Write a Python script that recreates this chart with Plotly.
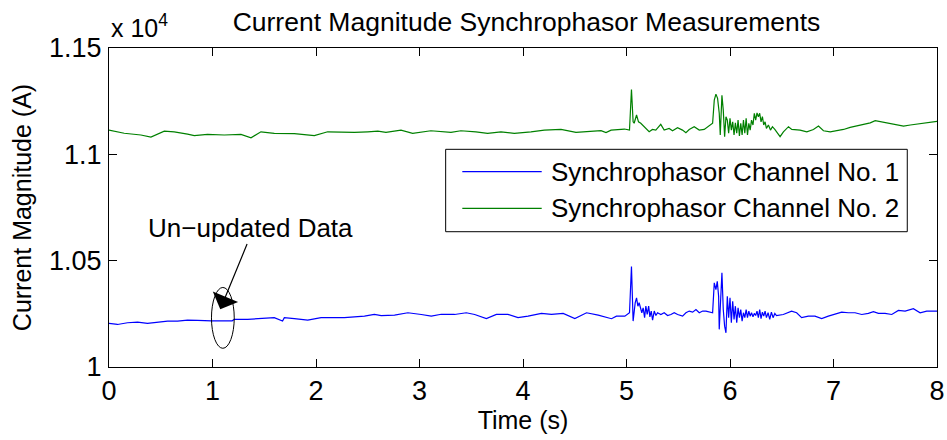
import plotly.graph_objects as go

# ---- data ----
t_ch2 = [0, 0.147, 0.308, 0.405, 0.534, 0.630, 0.759, 0.824, 0.952, 1.114,
         1.275, 1.372, 1.468, 1.597, 1.791, 1.984, 2.113, 2.242, 2.371, 2.500,
         2.597, 2.676, 2.821, 2.934, 3.110, 3.304, 3.400, 3.545, 3.658, 3.787,
         3.916, 4.077, 4.206, 4.367, 4.512, 4.754, 4.802, 4.851, 4.980, 5.029,
         5.048, 5.064, 5.074, 5.097, 5.116, 5.138, 5.155, 5.187, 5.219, 5.251,
         5.283, 5.331, 5.364, 5.412, 5.445, 5.493, 5.541, 5.574, 5.606, 5.654,
         5.703, 5.751, 5.799, 5.832, 5.848, 5.864, 5.880, 5.896, 5.906, 5.922,
         5.935, 5.948, 5.961, 5.974, 5.987, 6.000, 6.013, 6.026, 6.039, 6.052,
         6.065, 6.078, 6.091, 6.104, 6.117, 6.130, 6.143, 6.156, 6.169, 6.182,
         6.195, 6.208, 6.222, 6.235, 6.248, 6.261, 6.274, 6.287, 6.300, 6.313,
         6.326, 6.339, 6.352, 6.371, 6.391, 6.410, 6.433, 6.452, 6.484, 6.516,
         6.565, 6.597, 6.677, 6.742, 6.806, 6.855, 6.903, 6.968, 7.032, 7.097,
         7.161, 7.226, 7.290, 7.355, 7.403, 7.484, 7.548, 7.613, 7.677, 7.742,
         7.806, 7.871, 7.935, 7.984, 8.0]
i_ch2 = [11114, 11099, 11091, 11081, 11109, 11106, 11095, 11088, 11094, 11091,
         11094, 11078, 11106, 11099, 11097, 11088, 11106, 11105, 11103, 11106,
         11109, 11103, 11114, 11099, 11111, 11103, 11111, 11106, 11099, 11106,
         11099, 11106, 11114, 11117, 11103, 11111, 11102, 11114, 11119, 11114,
         11305, 11153, 11146, 11185, 11153, 11146, 11138, 11122, 11106, 11117,
         11114, 11141, 11114, 11122, 11111, 11125, 11114, 11102, 11117, 11130,
         11114, 11117, 11133, 11146, 11255, 11283, 11263, 11193, 11091, 11278,
         11208, 11083, 11177, 11161, 11099, 11169, 11114, 11153, 11091, 11148,
         11099, 11161, 11086, 11146, 11091, 11161, 11099, 11169, 11091, 11146,
         11114, 11161, 11138, 11193, 11161, 11195, 11177, 11193, 11153, 11177,
         11138, 11153, 11122, 11138, 11114, 11130, 11117, 11106, 11083, 11106,
         11130, 11117, 11114, 11106, 11117, 11133, 11111, 11106, 11111, 11117,
         11127, 11133, 11142, 11148, 11158, 11150, 11146, 11138, 11133, 11138,
         11142, 11146, 11152, 11156, 11155]

t_ch1 = [0, 0.082, 0.179, 0.276, 0.372, 0.469, 0.566, 0.662, 0.759, 0.856,
         0.952, 0.99, 1.19, 1.211, 1.340, 1.468, 1.597, 1.677, 1.694, 1.791,
         1.920, 2.049, 2.178, 2.274, 2.371, 2.468, 2.564, 2.630, 2.759, 2.888,
         3.017, 3.114, 3.210, 3.339, 3.452, 3.533, 3.646, 3.743, 3.855, 3.952,
         4.049, 4.178, 4.275, 4.388, 4.501, 4.614, 4.727, 4.855, 4.903, 4.984,
         5.029, 5.048, 5.064, 5.084, 5.097, 5.110, 5.122, 5.136, 5.148, 5.161,
         5.175, 5.187, 5.200, 5.214, 5.226, 5.239, 5.252, 5.268, 5.284, 5.300,
         5.332, 5.364, 5.397, 5.429, 5.461, 5.494, 5.542, 5.574, 5.606, 5.639,
         5.671, 5.703, 5.736, 5.768, 5.816, 5.832, 5.848, 5.864, 5.877, 5.890,
         5.896, 5.909, 5.922, 5.935, 5.948, 5.961, 5.974, 5.987, 6.000, 6.013,
         6.026, 6.039, 6.052, 6.065, 6.078, 6.091, 6.104, 6.117, 6.130, 6.143,
         6.156, 6.169, 6.182, 6.195, 6.208, 6.222, 6.235, 6.248, 6.261, 6.274,
         6.287, 6.300, 6.313, 6.326, 6.339, 6.352, 6.368, 6.384, 6.400, 6.416,
         6.433, 6.449, 6.515, 6.595, 6.644, 6.692, 6.757, 6.821, 6.886, 6.950,
         7.015, 7.079, 7.144, 7.208, 7.273, 7.337, 7.386, 7.434, 7.498, 7.563,
         7.627, 7.692, 7.772, 7.837, 7.901, 7.966, 8.0]
i_ch1 = [10205, 10200, 10208, 10211, 10205, 10211, 10216, 10216, 10220, 10219,
         10216, 10217, 10217, 10224, 10224, 10227, 10232, 10216, 10232, 10227,
         10220, 10232, 10232, 10232, 10236, 10239, 10247, 10242, 10244, 10255,
         10247, 10239, 10248, 10247, 10255, 10247, 10228, 10247, 10247, 10232,
         10239, 10252, 10247, 10252, 10228, 10255, 10244, 10227, 10239, 10239,
         10255, 10473, 10216, 10302, 10325, 10286, 10302, 10270, 10255, 10278,
         10232, 10286, 10247, 10286, 10236, 10263, 10220, 10263, 10242, 10255,
         10247, 10255, 10242, 10247, 10255, 10247, 10239, 10255, 10263, 10258,
         10270, 10255, 10263, 10263, 10258, 10255, 10396, 10364, 10403, 10333,
         10177, 10317, 10443, 10270, 10192, 10161, 10333, 10232, 10325, 10208,
         10309, 10224, 10286, 10208, 10278, 10232, 10270, 10216, 10255, 10232,
         10270, 10232, 10263, 10239, 10255, 10236, 10252, 10242, 10263, 10232,
         10270, 10227, 10258, 10239, 10263, 10232, 10255, 10224, 10258, 10232,
         10252, 10242, 10247, 10263, 10255, 10232, 10239, 10239, 10228, 10239,
         10247, 10258, 10255, 10255, 10247, 10252, 10260, 10252, 10252, 10247,
         10266, 10263, 10274, 10255, 10263, 10263, 10263]

series_names = ["Synchrophasor Channel No. 1", "Synchrophasor Channel No. 2"]
series_colors = ["#0000ff", "#008000"]
x_ticks = [0, 1, 2, 3, 4, 5, 6, 7, 8]
y_tickvals = [10000, 10500, 11000, 11500]
y_ticktext = ["1", "1.05", "1.1", "1.15"]

FONT = "Liberation Sans, Arial, Helvetica, sans-serif"

W, H = 947, 440

fig = go.Figure()
fig.add_trace(go.Scatter(x=t_ch1, y=i_ch1, mode="lines", name=series_names[0],
                         line=dict(color=series_colors[0], width=1.2), showlegend=False))
fig.add_trace(go.Scatter(x=t_ch2, y=i_ch2, mode="lines", name=series_names[1],
                         line=dict(color=series_colors[1], width=1.2), showlegend=False))

axis_common = dict(showline=True, linecolor="black", linewidth=1, mirror="ticks",
                   ticks="inside", ticklen=8, tickcolor="black", tickwidth=1,
                   showgrid=False, zeroline=False, automargin=False,
                   ticklabeloverflow="allow",
                   tickfont=dict(family=FONT, size=27, color="black"))

fig.update_xaxes(range=[0, 8], tickvals=x_ticks, ticklabelstandoff=0,
                 title=dict(text="Time (s)", font=dict(family=FONT, size=25, color="black"), standoff=0),
                 **axis_common)
fig.update_yaxes(range=[10000, 11500], tickvals=y_tickvals, ticktext=y_ticktext, ticklabelstandoff=1,
                 title=dict(text="Current Magnitude (A)", font=dict(family=FONT, size=25, color="black"), standoff=10),
                 **axis_common)

# manual legend (MATLAB style, long line samples)
L = dict(x0=0.4066, x1=0.9641, y0=0.4241, y1=0.6824)
shapes = [
    dict(type="rect", xref="paper", yref="paper", x0=L["x0"], x1=L["x1"], y0=L["y0"], y1=L["y1"],
         line=dict(color="black", width=1), fillcolor="white", layer="above"),
]
ann = []
for k, ly in enumerate([0.6122, 0.4975]):
    shapes.append(dict(type="line", xref="paper", yref="paper", x0=0.4267, x1=0.5226, y0=ly, y1=ly,
                       line=dict(color=series_colors[k], width=1.2), layer="above"))
    ann.append(dict(xref="paper", yref="paper", x=0.5310, y=ly, xanchor="left", yanchor="middle",
                    text=series_names[k], showarrow=False,
                    font=dict(family=FONT, size=26, color="black")))

# ellipse around the un-updated data
shapes.append(dict(type="circle", xref="x", yref="y", x0=0.99, x1=1.21, y0=10088, y1=10374,
                   line=dict(color="black", width=1)))
fig.update_layout(shapes=shapes)

# arrow and label
ann.append(dict(xref="x", yref="y", axref="x", ayref="y", x=1.075, y=10271, ax=1.34, ay=10585,
                text="", showarrow=True, arrowhead=1, arrowsize=3.8, arrowwidth=1.2, arrowcolor="black"))
ann.append(dict(xref="x", yref="y", x=1.37, y=10655, text="Un\u2212updated Data", showarrow=False,
                xanchor="center", yanchor="middle", font=dict(family=FONT, size=26, color="black")))
# exponent label
ann.append(dict(xref="paper", yref="paper", x=0, y=1, xanchor="left", yanchor="bottom", yshift=4,
                text="x 10<sup>4</sup>", showarrow=False, font=dict(family=FONT, size=25, color="black")))

fig.update_layout(
    annotations=ann,
    width=W, height=H,
    margin=dict(l=109, r=10, t=48, b=73, autoexpand=False),
    paper_bgcolor="white", plot_bgcolor="white",
    title=dict(text="Current Magnitude Synchrophasor Measurements", x=526.5 / W, xanchor="center",
               y=1 - 22 / H, yanchor="middle", yref="container", automargin=False,
               font=dict(family=FONT, size=26.5, color="black")),
    showlegend=False,
)

fig.write_html("out.html", config={"displayModeBar": False},
               post_script="document.body.style.margin='0';document.body.style.overflow='hidden';")
